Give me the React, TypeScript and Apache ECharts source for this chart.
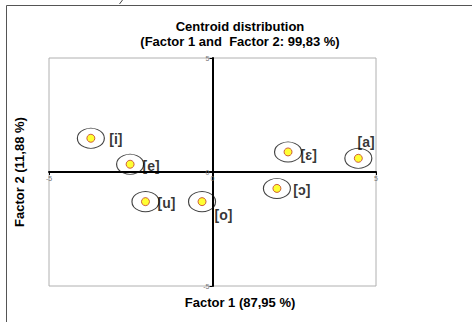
import React, { useEffect, useRef } from "react";
import * as echarts from "echarts";

const vowels = ["[i]", "[e]", "[u]", "[o]", "[ɛ]", "[a]", "[ɔ]"];
const factor1 = [-3.72, -2.52, -2.05, -0.32, 2.31, 4.46, 1.97];
const factor2 = [1.48, 0.34, -1.3, -1.3, 0.88, 0.6, -0.72];
const axisMin = -5;
const axisMax = 5;
const axisStep = 5;

const titleText = "Centroid distribution";
const subtitleText = "(Factor 1 and  Factor 2: 99,83 %)";
const xTitle = "Factor 1 (87,95 %)";
const yTitle = "Factor 2 (11,88 %)";

// label offsets (style only), from point centre to label centre
const labelOffsets: [number, number][] = [
  [25, 1],
  [21, 1.5],
  [21, 1],
  [21.5, 13.3],
  [20.7, 3],
  [7.7, -16.6],
  [25, 1.7],
];

const FONT = "'Liberation Sans', Arial, sans-serif";
const GRID = { left: 49, top: 58, right: 96, bottom: 36 };
const W = 472;
const H = 322;

export default function App() {
  const ref = useRef<HTMLDivElement>(null);
  useEffect(() => {
    if (!ref.current) return;
    const chart = echarts.init(ref.current, null, { renderer: "svg" });
    const pts = vowels.map((n, i) => ({ name: n, value: [factor1[i], factor2[i]] }));
    const gw = W - GRID.left - GRID.right;
    const gh = H - GRID.top - GRID.bottom;
    const axisCommon = {
      type: "value" as const,
      min: axisMin,
      max: axisMax,
      interval: axisStep,
      splitLine: { show: false },
      axisLine: { show: true, onZero: false, lineStyle: { color: "#000", width: 2 } },
      axisTick: { show: true, length: 3, lineStyle: { color: "#000", width: 1 } },
      axisLabel: { fontSize: 7, color: "#777", fontFamily: FONT, margin: 3 },
    };
    chart.setOption({
      animation: false,
      backgroundColor: "#fff",
      grid: {
        ...GRID,
        show: true,
        borderColor: "#b0b0b0",
        borderWidth: 1,
        backgroundColor: "transparent",
      },
      xAxis: { ...axisCommon, position: "bottom", offset: -gh / 2 },
      yAxis: { ...axisCommon, position: "left", offset: -gw / 2 },
      graphic: [
        {
          type: "line",
          shape: { x1: 6.5, y1: 5.5, x2: 472, y2: 5.5 },
          style: { stroke: "#555", lineWidth: 1 },
          silent: true,
        },
        {
          type: "line",
          shape: { x1: 6.5, y1: 5.5, x2: 6.5, y2: 322 },
          style: { stroke: "#555", lineWidth: 1 },
          silent: true,
        },
        {
          type: "line",
          shape: { x1: 122.5, y1: 0, x2: 119.5, y2: 4 },
          style: { stroke: "#444", lineWidth: 1 },
          silent: true,
        },
        {
          type: "text",
          x: 240,
          y: 26,
          style: {
            text: titleText,
            font: `bold 13px ${FONT}`,
            fill: "#000",
            align: "center",
            verticalAlign: "middle",
          },
        },
        {
          type: "text",
          x: 240,
          y: 41,
          style: {
            text: subtitleText,
            font: `bold 13px ${FONT}`,
            fill: "#000",
            align: "center",
            verticalAlign: "middle",
          },
        },
        {
          type: "text",
          x: 240,
          y: 302,
          style: {
            text: xTitle,
            font: `bold 13px ${FONT}`,
            fill: "#000",
            align: "center",
            verticalAlign: "middle",
          },
        },
        {
          type: "text",
          x: 19,
          y: 172,
          rotation: Math.PI / 2,
          style: {
            text: yTitle,
            font: `bold 13px ${FONT}`,
            fill: "#000",
            align: "center",
            verticalAlign: "middle",
          },
        },
      ],
      series: [
        {
          type: "scatter",
          data: pts,
          symbol: "circle",
          symbolSize: [27, 20],
          itemStyle: { color: "transparent", borderColor: "#111", borderWidth: 1 },
          silent: true,
          z: 2,
        },
        {
          type: "scatter",
          data: pts.map((p, i) => ({
            ...p,
            label: { offset: labelOffsets[i] },
          })),
          symbol: "circle",
          symbolSize: 8,
          itemStyle: { color: "#ffff00", borderColor: "#c0392b", borderWidth: 1 },
          label: {
            show: true,
            position: "inside",
            align: "center",
            verticalAlign: "middle",
            formatter: (p: any) => p.name,
            fontSize: 14,
            fontWeight: "bold",
            fontFamily: FONT,
            color: "#000",
          },
          z: 3,
        },
      ],
    });
    return () => chart.dispose();
  }, []);
  return <div ref={ref} style={{ width: W, height: H, position: "absolute", left: 0, top: 0 }} />;
}
